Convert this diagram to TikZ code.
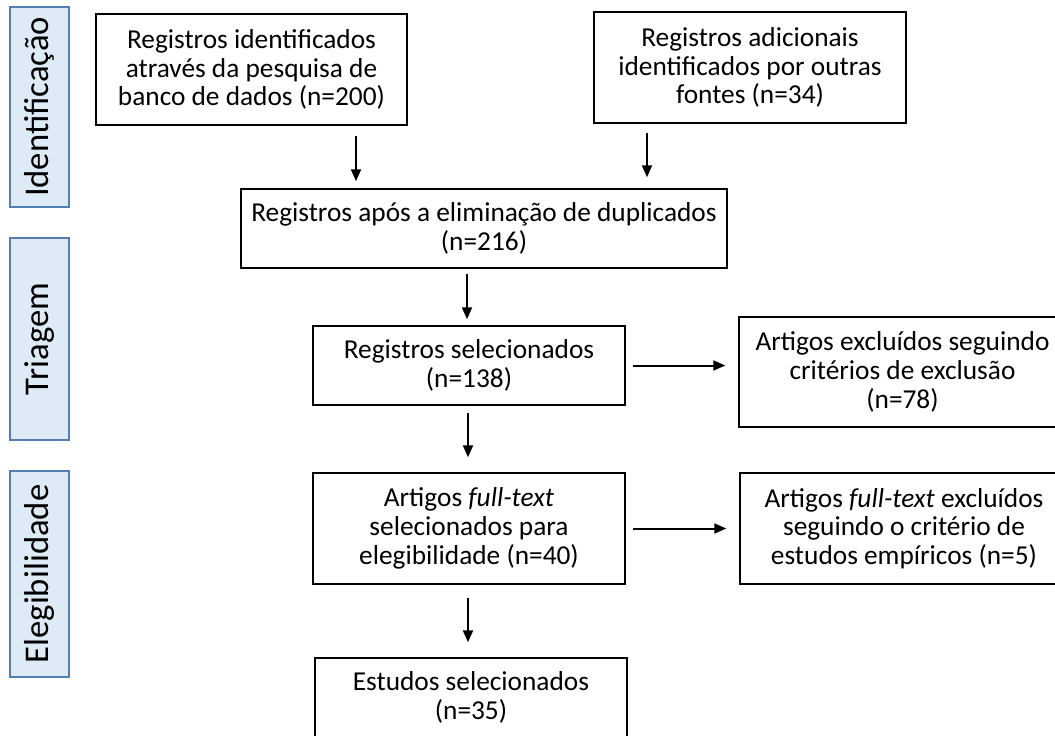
\documentclass[tikz,border=0pt]{standalone}
\usepackage{fontspec}
\setmainfont{Carlito}
\usetikzlibrary{arrows.meta}
\definecolor{barfill}{RGB}{222,235,247}
\definecolor{barline}{RGB}{84,126,178}
\tikzset{
  box/.style={draw=black, line width=1.1pt, inner sep=0pt, align=center,
    font=\fontsize{20.5}{21.5}\selectfont},
  phase/.style={draw=barline, fill=barfill, line width=1.4pt, inner sep=0pt,
    minimum height=44.25pt, rotate=90, font=\fontsize{26}{30}\selectfont},
  arr/.style={line width=1.5pt, -{Triangle[length=9pt,width=7.5pt]}}
}
\begin{document}
\begin{tikzpicture}[x=0.75pt,y=-0.75pt]
\useasboundingbox (0,0) rectangle (1055,735);
\clip (0,0) rectangle (1055,735);
% phase bars
\node[phase, minimum width=150pt] (ph1) at (39.5,107) {Identificação};
\node[phase, minimum width=151.5pt] (ph2) at (39.5,339) {Triagem};
\node[phase, minimum width=154.5pt] (ph3) at (39.5,574) {Elegibilidade};
% boxes
\node[box, minimum width=233.25pt, minimum height=83.25pt] (b1) at (251.5,69.5)
  {Registros identificados\\através da pesquisa de\\banco de dados (n=200)};
\node[box, minimum width=234pt, minimum height=83.25pt] (b2) at (750,67.5)
  {Registros adicionais\\identificados por outras\\fontes (n=34)};
\node[box, minimum width=364.5pt, minimum height=59.25pt] (dup) at (484,228.5)
  {Registros após a eliminação de duplicados\\(n=216)};
\node[box, minimum width=234pt, minimum height=59.25pt] (sel) at (469,365.5)
  {Registros selecionados\\(n=138)};
\node[box, minimum width=245.25pt, minimum height=82.5pt] (exc1) at (902.5,372)
  {Artigos excluídos seguindo\\critérios de exclusão\\(n=78)};
\node[box, minimum width=234pt, minimum height=83.25pt] (ft) at (469,528.5)
  {Artigos \textit{full-text}\\selecionados para\\elegibilidade (n=40)};
\node[box, minimum width=246pt, minimum height=83.25pt] (exc2) at (904,528.5)
  {Artigos \textit{full-text} excluídos\\seguindo o critério de\\estudos empíricos (n=5)};
\node[box, minimum width=234pt, minimum height=59.25pt] (est) at (471,697.5)
  {Estudos selecionados\\(n=35)};
% arrow x positions
\coordinate (xa) at (356,0);
\coordinate (xb) at (647,0);
\coordinate (xc) at (467,0);
\coordinate (xd) at (468,0);
\draw[arr, shorten <=7.5pt, shorten >=5.25pt] (b1.south -| xa) -- (dup.north -| xa);
\draw[arr, shorten <=6.75pt, shorten >=8.25pt] (b2.south -| xb) -- (dup.north -| xb);
\draw[arr, shorten <=3.75pt, shorten >=4.5pt] (dup.south -| xc) -- (sel.north -| xc);
\draw[arr, shorten <=5.25pt, shorten >=11.25pt] (sel.south -| xd) -- (ft.north -| xd);
\draw[arr, shorten <=9.75pt, shorten >=11.25pt] (ft.south -| xd) -- (est.north -| xd);
\draw[arr, shorten <=5.25pt, shorten >=9.75pt] (sel.east) -- (sel.east -| exc1.west);
\draw[arr, shorten <=5.25pt, shorten >=9.75pt] (ft.east) -- (exc2.west);
\end{tikzpicture}
\end{document}
